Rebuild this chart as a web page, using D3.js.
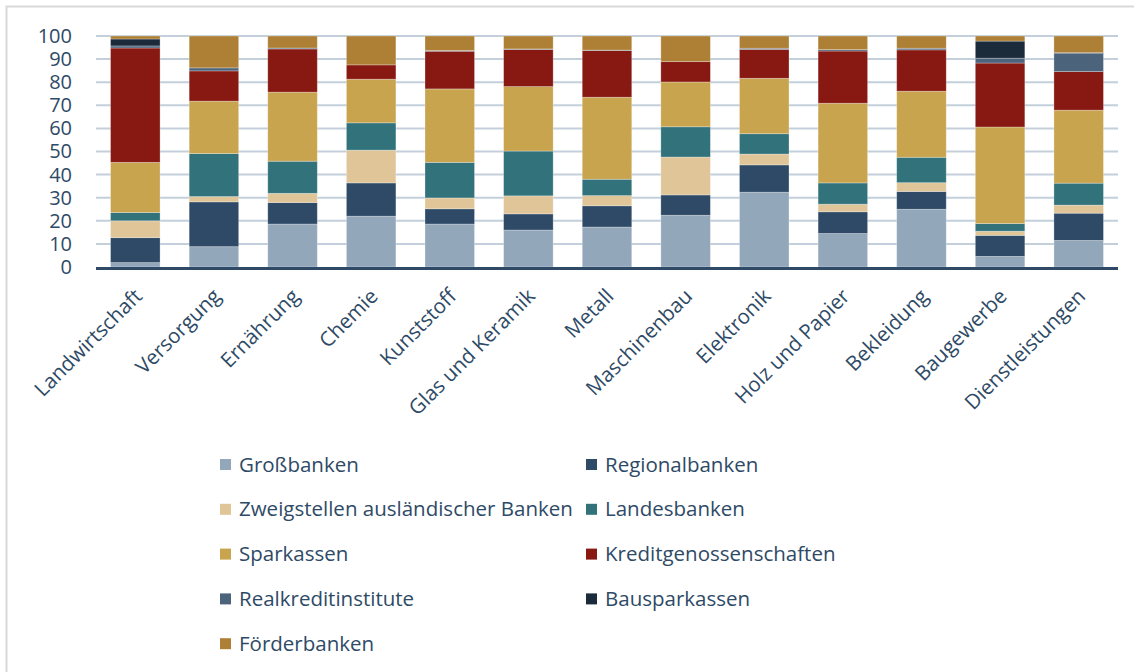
<!DOCTYPE html>
<html>
<head>
<meta charset="utf-8">
<script src="https://cdn.jsdelivr.net/npm/d3@7"></script>
<style>
  body { margin: 0; background: #fff; }
  text { font-family: "Open Sans", sans-serif; fill: #2E4A66; }
</style>
</head>
<body>
<div id="chart"></div>
<script>
// Sectors (x axis)
var categories = ["Landwirtschaft", "Versorgung", "Ernährung", "Chemie", "Kunststoff",
    "Glas und Keramik", "Metall", "Maschinenbau", "Elektronik", "Holz und Papier",
    "Bekleidung", "Baugewerbe", "Dienstleistungen"];

// Banking groups (stack order, bottom to top)
var seriesNames = ["Großbanken", "Regionalbanken", "Zweigstellen ausländischer Banken",
    "Landesbanken", "Sparkassen", "Kreditgenossenschaften", "Realkreditinstitute",
    "Bausparkassen", "Förderbanken"];
var seriesColors = ["#93A7BB", "#2E4A66", "#E0C598", "#31727B", "#C9A44E",
    "#871812", "#4C637C", "#1C2B3C", "#AD8035"];

// Shares in percent, one value per sector
var grossbanken = [1.9, 8.8, 18.6, 22.0, 18.6, 16.0, 17.3, 22.4, 32.4, 14.5, 25.0, 4.6, 11.5];
var regionalbanken = [10.8, 19.4, 9.3, 14.4, 6.6, 7.0, 9.2, 8.8, 11.8, 9.4, 7.7, 9.1, 11.8];
var zweigstellen = [7.3, 2.3, 4.0, 14.2, 4.7, 7.8, 4.4, 16.4, 4.7, 3.3, 3.8, 1.8, 3.5];
var landesbanken = [3.6, 18.6, 13.9, 11.8, 15.4, 19.4, 7.1, 13.1, 8.8, 9.2, 11.0, 3.3, 9.5];
var sparkassen = [21.7, 22.7, 29.9, 18.9, 31.8, 27.9, 35.5, 19.4, 24.0, 34.5, 28.6, 41.8, 31.6];
var kreditgenossenschaften = [49.5, 13.1, 18.7, 6.2, 16.3, 16.1, 20.2, 8.8, 12.5, 22.6, 17.9, 27.7, 16.7];
var realkredit = [0.9, 1.3, 0.4, 0.0, 0.3, 0.2, 0.2, 0.0, 0.5, 0.6, 0.7, 2.1, 7.8];
var bausparkassen = [3.0, 0.0, 0.0, 0.0, 0.0, 0.0, 0.0, 0.0, 0.0, 0.0, 0.0, 7.4, 0.4];
var foerderbanken = [1.3, 13.8, 5.2, 12.5, 6.3, 5.6, 6.1, 11.1, 5.3, 5.9, 5.3, 2.2, 7.2];

var yTicks = [0, 10, 20, 30, 40, 50, 60, 70, 80, 90, 100];

function init() {
    var w = 1134;
    var h = 672;
    var seriesValues = [grossbanken, regionalbanken, zweigstellen, landesbanken, sparkassen,
        kreditgenossenschaften, realkredit, bausparkassen, foerderbanken];

    // Build rows for d3.stack
    var rows = categories.map(function (c, i) {
        var row = { category: c };
        seriesNames.forEach(function (s, j) { row[s] = seriesValues[j][i]; });
        return row;
    });
    var stacked = d3.stack().keys(seriesNames)(rows);

    var svg = d3.select("#chart")
        .append("svg")
        .attr("width", w)
        .attr("height", h);

    // Light frame (left and top edges)
    svg.append("path")
        .attr("d", "M6.5," + h + "V6.5H" + w)
        .attr("fill", "none")
        .attr("stroke", "#D9D9D9")
        .attr("stroke-width", 2);

    var x = d3.scaleBand()
        .domain(categories)
        .range([96, 1118])
        .paddingInner(0.37)
        .paddingOuter(0.185);

    var y = d3.scaleLinear()
        .domain([0, 100])
        .range([267, 36]);

    // Gridlines
    svg.append("g")
        .selectAll("line")
        .data(yTicks.slice(1))
        .enter()
        .append("line")
        .attr("x1", 96)
        .attr("x2", 1118)
        .attr("y1", function (d) { return y(d); })
        .attr("y2", function (d) { return y(d); })
        .attr("stroke", "#C3D0DC")
        .attr("stroke-width", 2);

    // Y axis labels
    var yAxis = d3.axisLeft(y).tickValues(yTicks).tickSize(0).tickPadding(0);
    var gy = svg.append("g")
        .attr("transform", "translate(72,0)")
        .call(yAxis);
    gy.select(".domain").remove();
    gy.selectAll("text")
        .style("font-size", "20px")
        .style("font-family", "'Open Sans', sans-serif")
        .attr("fill", "#2E4A66");

    // Stacked bars
    svg.append("g")
        .selectAll("g")
        .data(stacked)
        .enter()
        .append("g")
        .attr("fill", function (d, i) { return seriesColors[i]; })
        .selectAll("rect")
        .data(function (d) { return d; })
        .enter()
        .append("rect")
        .attr("x", function (d) { return x(d.data.category); })
        .attr("width", x.bandwidth())
        .attr("y", function (d) { return y(d[1]); })
        .attr("height", function (d) { return Math.max(0, y(d[0]) - y(d[1])); })
        .attr("stroke", "rgba(255,255,255,0.35)")
        .attr("stroke-width", function (d) { return d[1] - d[0] > 0 ? 0.8 : 0; });

    // X axis line and rotated labels
    var xAxis = d3.axisBottom(x).tickSize(0).tickPadding(0);
    var gx = svg.append("g")
        .attr("transform", "translate(0,268.5)")
        .call(xAxis);
    gx.select(".domain")
        .attr("stroke", "#2E4A66")
        .attr("stroke-width", 3)
        .attr("d", "M96,0H1118");
    gx.selectAll("text")
        .style("font-size", "20.5px")
        .style("font-family", "'Open Sans', sans-serif")
        .attr("fill", "#2E4A66")
        .attr("text-anchor", "end")
        .attr("dy", null)
        .attr("y", 0)
        .attr("transform", "translate(8,29) rotate(-45)");

    // Legend in two columns
    var legend = svg.append("g")
        .selectAll("g")
        .data(seriesNames)
        .enter()
        .append("g")
        .attr("transform", function (d, i) {
            var col = i % 2;
            var row = Math.floor(i / 2);
            return "translate(" + (col === 0 ? 220 : 586) + "," + (464.5 + row * 44.8) + ")";
        });
    legend.append("rect")
        .attr("x", 0)
        .attr("y", -5.5)
        .attr("width", 11)
        .attr("height", 11)
        .attr("fill", function (d, i) { return seriesColors[i]; });
    legend.append("text")
        .attr("x", 19)
        .attr("y", 0)
        .attr("dy", "0.35em")
        .style("font-size", "20.5px")
        .text(function (d) { return d; });
}

window.onload = init;
</script>
</body>
</html>
